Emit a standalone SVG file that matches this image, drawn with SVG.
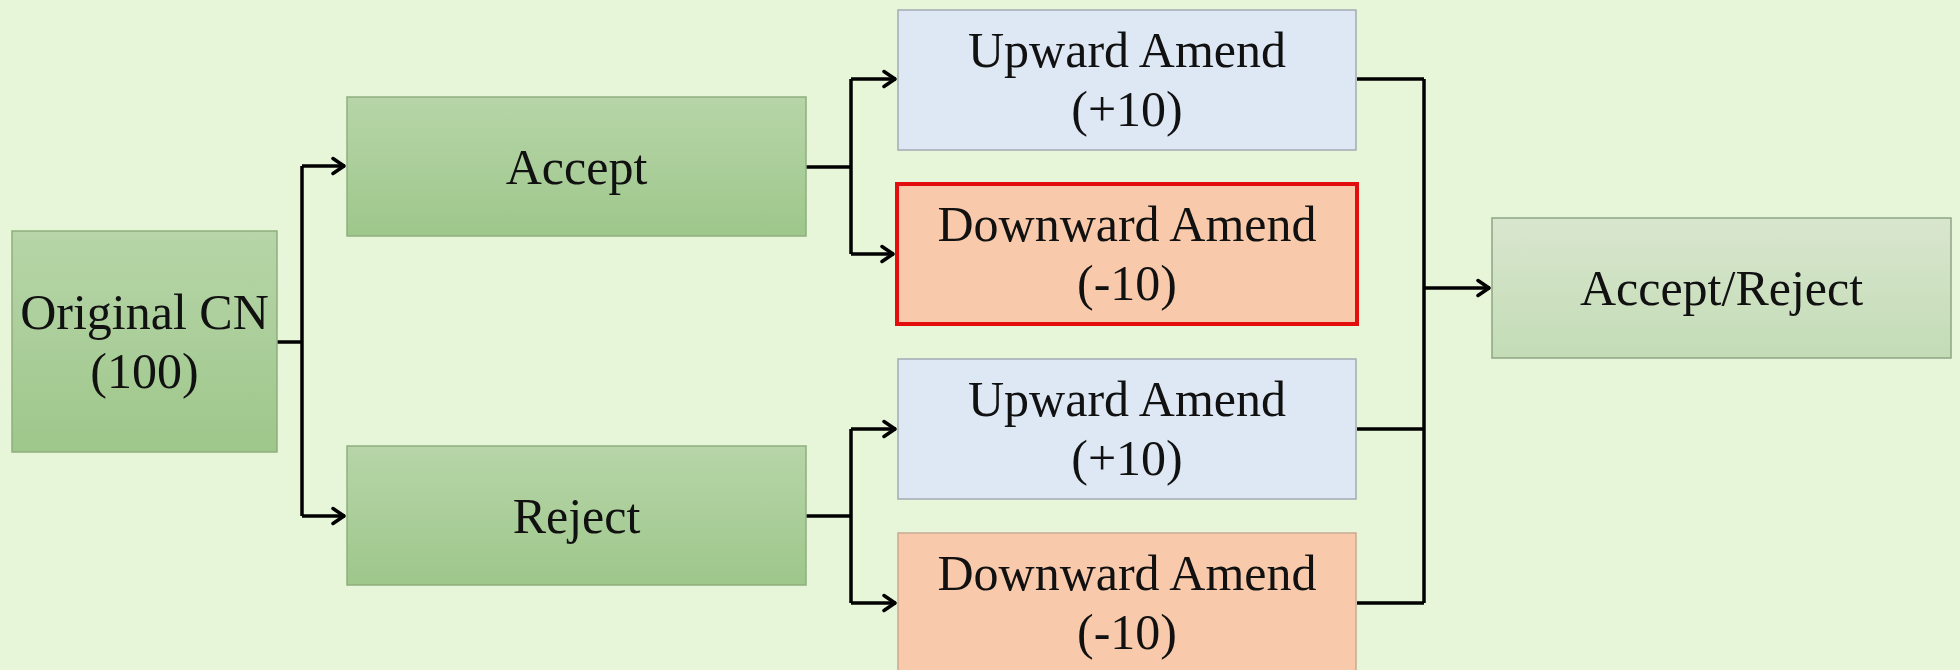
<svg xmlns="http://www.w3.org/2000/svg" width="1960" height="670" viewBox="0 0 1960 670">
  <defs>
    <linearGradient id="gGreen" x1="0" y1="0" x2="0" y2="1">
      <stop offset="0" stop-color="#b7d5a8"/>
      <stop offset="1" stop-color="#9ec78b"/>
    </linearGradient>
    <linearGradient id="gPale" x1="0" y1="0" x2="0" y2="1">
      <stop offset="0" stop-color="#d9e6ce"/>
      <stop offset="1" stop-color="#c3dcb6"/>
    </linearGradient>
    <marker id="arrow" viewBox="0 0 16 20" refX="14.5" refY="10" markerWidth="16" markerHeight="20" markerUnits="userSpaceOnUse" orient="auto">
      <path d="M2.5,2.5 L13.5,10 L2.5,17.5" fill="none" stroke="#000" stroke-width="3.5" stroke-linecap="round" stroke-linejoin="round"/>
    </marker>
    <style>
      .lbl { font-family: "Liberation Serif", "Times New Roman", serif; font-size: 50px; fill: #111; text-anchor: middle; }
      .green { fill: url(#gGreen); stroke: #8fae7e; stroke-width: 1.5; }
      .pale { fill: url(#gPale); stroke: #8fa585; stroke-width: 1.5; }
      .blue { fill: #dde8f4; stroke: #a3aab3; stroke-width: 1.5; }
      .peach { fill: #f8caab; stroke: #c9a993; stroke-width: 1.5; }
      .alert { fill: #f8caab; stroke: #e40d0d; stroke-width: 4; }
      .wire { fill: none; stroke: #000; stroke-width: 3.5; }
    </style>
  </defs>

  <rect width="1960" height="670" fill="#e7f5d9"/>

  <g id="connectors">
    <!-- Original CN splits to Accept / Reject -->
    <path class="wire" d="M277,342 H302"/>
    <path class="wire" d="M302,166 V516"/>
    <path class="wire" d="M302,166 H345" marker-end="url(#arrow)"/>
    <path class="wire" d="M302,516 H345" marker-end="url(#arrow)"/>
    <!-- Accept splits to amendments -->
    <path class="wire" d="M806,167 H851"/>
    <path class="wire" d="M851,79 V254"/>
    <path class="wire" d="M851,79 H896" marker-end="url(#arrow)"/>
    <path class="wire" d="M851,254 H894" marker-end="url(#arrow)"/>
    <!-- Reject splits to amendments -->
    <path class="wire" d="M806,516 H851"/>
    <path class="wire" d="M851,429 V603"/>
    <path class="wire" d="M851,429 H896" marker-end="url(#arrow)"/>
    <path class="wire" d="M851,603 H896" marker-end="url(#arrow)"/>
    <!-- Amendments merge into Accept/Reject -->
    <path class="wire" d="M1357,79 H1424"/>
    <path class="wire" d="M1357,429 H1424"/>
    <path class="wire" d="M1357,603 H1424"/>
    <path class="wire" d="M1424,79 V603"/>
    <path class="wire" d="M1424,288 H1490" marker-end="url(#arrow)"/>
  </g>

  <g id="original-cn">
    <rect class="green" x="12" y="231" width="265" height="221"/>
    <text class="lbl" x="144.5" y="329">Original CN</text>
    <text class="lbl" x="144.5" y="388">(100)</text>
  </g>

  <g id="accept">
    <rect class="green" x="347" y="97" width="459" height="139"/>
    <text class="lbl" x="576.5" y="184">Accept</text>
  </g>

  <g id="reject">
    <rect class="green" x="347" y="446" width="459" height="139"/>
    <text class="lbl" x="576.5" y="533">Reject</text>
  </g>

  <g id="upward-accept">
    <rect class="blue" x="898" y="10" width="458" height="140"/>
    <text class="lbl" x="1127" y="67">Upward Amend</text>
    <text class="lbl" x="1127" y="126">(+10)</text>
  </g>

  <g id="downward-accept">
    <rect class="alert" x="897" y="184" width="460" height="140"/>
    <text class="lbl" x="1127" y="241">Downward Amend</text>
    <text class="lbl" x="1127" y="300">(-10)</text>
  </g>

  <g id="upward-reject">
    <rect class="blue" x="898" y="359" width="458" height="140"/>
    <text class="lbl" x="1127" y="416">Upward Amend</text>
    <text class="lbl" x="1127" y="475">(+10)</text>
  </g>

  <g id="downward-reject">
    <rect class="peach" x="898" y="533" width="458" height="140"/>
    <text class="lbl" x="1127" y="590">Downward Amend</text>
    <text class="lbl" x="1127" y="649">(-10)</text>
  </g>

  <g id="accept-reject">
    <rect class="pale" x="1492" y="218" width="459" height="140"/>
    <text class="lbl" x="1721.5" y="305">Accept/Reject</text>
  </g>
</svg>
